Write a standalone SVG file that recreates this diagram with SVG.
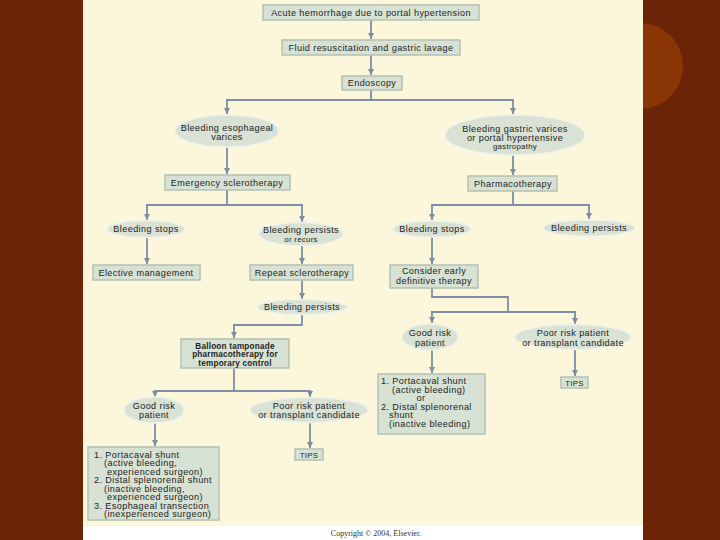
<svg xmlns="http://www.w3.org/2000/svg" width="720" height="540" viewBox="0 0 720 540">
<defs>
<marker id="ah" markerUnits="userSpaceOnUse" markerWidth="7" markerHeight="7" refX="6" refY="3" orient="auto">
<path d="M0,0 L6,3 L0,6 z" fill="#7d8ea3"/>
</marker>
<style>
.box{fill:#d8e2d4;stroke:#b3c1b3;stroke-width:1.5}
.ell{fill:#d9e2d5;stroke:#eef2ea;stroke-width:1.5}
.t{font-family:"Liberation Sans",Arial,sans-serif;font-size:9.1px;letter-spacing:0.4px;fill:#222;text-anchor:middle}
.l{text-anchor:start}
.s{font-size:7.8px;letter-spacing:0.3px}
.b{font-weight:bold;font-size:8.2px;letter-spacing:0.2px}
.c{fill:none;stroke:#7d8ea3;stroke-width:1.8}
.a{marker-end:url(#ah)}
</style>
</defs>
<rect width="720" height="540" fill="#6c2406"/>
<circle cx="640" cy="66" r="43" fill="#8a3506"/>
<rect x="83" y="0" width="560" height="540" fill="#ffffff"/>
<rect x="83" y="0" width="560" height="526" fill="#fcf7da"/>

<g id="connectors">
<path class="c a" d="M371,20 V39"/>
<path class="c a" d="M371,55 V75"/>
<path class="c" d="M371,90 V100 M226,100 H514"/>
<path class="c a" d="M227,100 V114"/>
<path class="c a" d="M513,100 V114"/>
<path class="c a" d="M227,147 V174"/>
<path class="c a" d="M513,155 V175"/>
<path class="c" d="M227,190 V205 M146,205 H303"/>
<path class="c a" d="M147,205 V220"/>
<path class="c a" d="M302,205 V222"/>
<path class="c a" d="M147,237 V264"/>
<path class="c a" d="M302,245 V264"/>
<path class="c a" d="M302,280 V299"/>
<path class="c a" d="M302,314 V325 H234 V338"/>
<path class="c" d="M234,368 V391 M154,391 H311"/>
<path class="c a" d="M155,391 V397"/>
<path class="c a" d="M310,391 V397"/>
<path class="c a" d="M155,423 V446"/>
<path class="c a" d="M310,422 V448"/>
<path class="c" d="M513,191 V205 M431,205 H590"/>
<path class="c a" d="M432,205 V220"/>
<path class="c a" d="M589,205 V219"/>
<path class="c a" d="M432,237 V264"/>
<path class="c" d="M432,288 V297 H508 V312 M431,312 H576"/>
<path class="c a" d="M432,312 V323"/>
<path class="c a" d="M575,312 V324"/>
<path class="c a" d="M432,350 V373"/>
<path class="c a" d="M575,349 V376"/>
</g>

<g id="n1"><rect class="box" x="263" y="5" width="216" height="15"/><text class="t" x="371" y="15.5">Acute hemorrhage due to portal hypertension</text></g>
<g id="n2"><rect class="box" x="282" y="40" width="178" height="15"/><text class="t" x="371" y="50.5">Fluid resuscitation and gastric lavage</text></g>
<g id="n3"><rect class="box" x="342" y="76" width="60" height="14"/><text class="t" x="372" y="86">Endoscopy</text></g>

<g id="n4"><ellipse class="ell" cx="227" cy="131" rx="52" ry="16"/><text class="t" x="227" y="131">Bleeding esophageal</text><text class="t" x="227" y="139.5">varices</text></g>
<g id="n5"><ellipse class="ell" cx="515" cy="135" rx="70" ry="20"/><text class="t" x="515" y="132">Bleeding gastric varices</text><text class="t" x="515" y="140.5">or portal hypertensive</text><text class="t s" x="515" y="149">gastropathy</text></g>

<g id="n6"><rect class="box" x="165" y="175" width="125" height="15"/><text class="t" x="227" y="185.5">Emergency sclerotherapy</text></g>
<g id="n7"><rect class="box" x="468" y="176" width="89" height="15"/><text class="t" x="513" y="186.5">Pharmacotherapy</text></g>

<g id="n8"><ellipse class="ell" cx="146" cy="229" rx="39" ry="8.5"/><text class="t" x="146" y="232">Bleeding stops</text></g>
<g id="n9"><ellipse class="ell" cx="301" cy="234" rx="42" ry="11.5"/><text class="t" x="301" y="233">Bleeding persists</text><text class="t s" x="301" y="241.5">or recurs</text></g>
<g id="n10"><rect class="box" x="93" y="265" width="107" height="15"/><text class="t" x="146" y="275.5">Elective management</text></g>
<g id="n11"><rect class="box" x="250" y="265" width="103" height="15"/><text class="t" x="302" y="275.5">Repeat sclerotherapy</text></g>
<g id="n12"><ellipse class="ell" cx="302" cy="307" rx="45" ry="7.5"/><text class="t" x="302" y="310">Bleeding persists</text></g>

<g id="n13"><rect class="box" x="181" y="339" width="108" height="29"/><text class="t b" x="235" y="348.5">Balloon tamponade</text><text class="t b" x="235" y="357">pharmacotherapy for</text><text class="t b" x="235" y="365.5">temporary control</text></g>

<g id="n14"><ellipse class="ell" cx="154" cy="410" rx="30" ry="13"/><text class="t" x="154" y="409">Good risk</text><text class="t" x="154" y="417.5">patient</text></g>
<g id="n15"><ellipse class="ell" cx="309" cy="410" rx="59" ry="12.5"/><text class="t" x="309" y="409">Poor risk patient</text><text class="t" x="309" y="417.5">or transplant candidate</text></g>

<g id="n16"><rect class="box" x="88" y="447" width="131" height="73"/>
<text class="t l" x="94" y="457.5">1. Portacaval shunt</text>
<text class="t l" x="104" y="466">(active bleeding,</text>
<text class="t l" x="107" y="474.5">experienced surgeon)</text>
<text class="t l" x="94" y="483">2. Distal splenorenal shunt</text>
<text class="t l" x="104" y="491.5">(inactive bleeding,</text>
<text class="t l" x="107" y="500">experienced surgeon)</text>
<text class="t l" x="94" y="508.5">3. Esophageal transection</text>
<text class="t l" x="104" y="517">(inexperienced surgeon)</text>
</g>
<g id="n17"><rect class="box" x="295" y="449" width="28" height="11"/><text class="t s" x="309" y="457.5">TIPS</text></g>

<g id="n18"><ellipse class="ell" cx="432" cy="229" rx="39" ry="8"/><text class="t" x="432" y="232">Bleeding stops</text></g>
<g id="n19"><ellipse class="ell" cx="589" cy="228" rx="46" ry="8"/><text class="t" x="589" y="231">Bleeding persists</text></g>
<g id="n20"><rect class="box" x="390" y="265" width="88" height="23"/><text class="t" x="434" y="274">Consider early</text><text class="t" x="434" y="284">definitive therapy</text></g>

<g id="n21"><ellipse class="ell" cx="430" cy="337" rx="28" ry="13"/><text class="t" x="430" y="336">Good risk</text><text class="t" x="430" y="346">patient</text></g>
<g id="n22"><ellipse class="ell" cx="573" cy="337" rx="58" ry="12.5"/><text class="t" x="573" y="336">Poor risk patient</text><text class="t" x="573" y="346">or transplant candidate</text></g>

<g id="n23"><rect class="box" x="378" y="374" width="107" height="60"/>
<text class="t l" x="381" y="384">1. Portacaval shunt</text>
<text class="t l" x="392" y="392.5">(active bleeding)</text>
<text class="t" x="421" y="401">or</text>
<text class="t l" x="381" y="409.5">2. Distal splenorenal</text>
<text class="t l" x="389" y="418">shunt</text>
<text class="t l" x="389" y="426.5">(inactive bleeding)</text>
</g>
<g id="n24"><rect class="box" x="561" y="377" width="27" height="11"/><text class="t s" x="574.5" y="385.5">TIPS</text></g>

<text x="376" y="536" style="font-family:'Liberation Serif','Times New Roman',serif;font-size:8px;fill:#333;text-anchor:middle">Copyright © 2004, Elsevier.</text>
</svg>
